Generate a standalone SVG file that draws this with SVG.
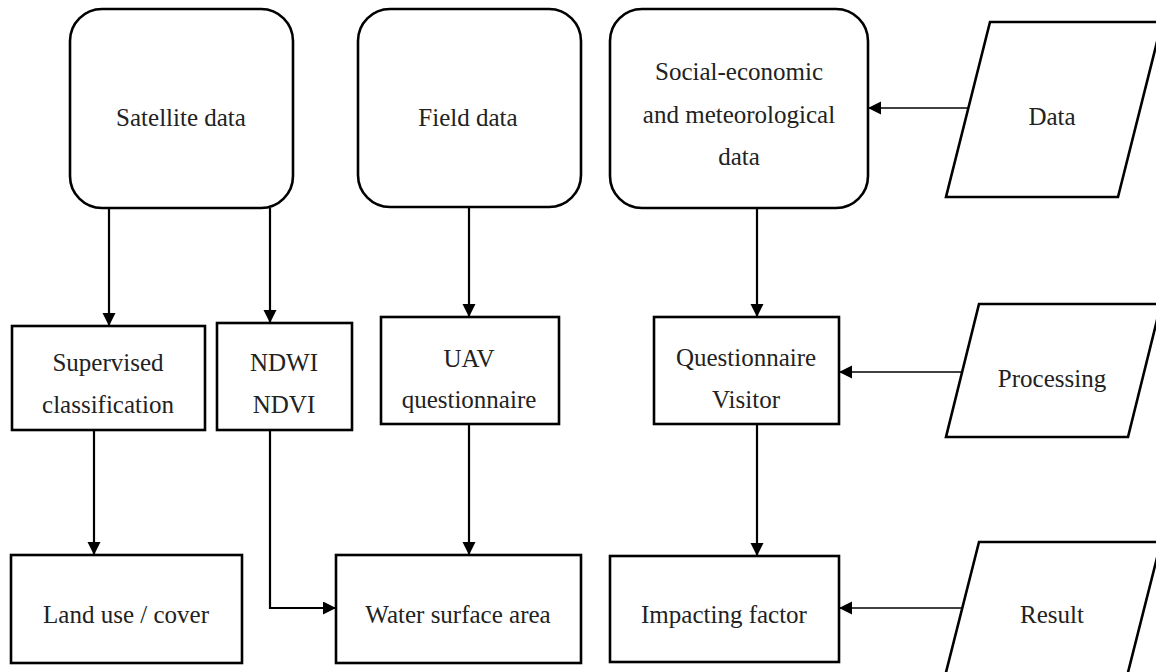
<svg xmlns="http://www.w3.org/2000/svg" width="1156" height="672" viewBox="0 0 1156 672">
<style>
.box{fill:#fff;stroke:#000;stroke-width:2.6}
.lbl{font-family:"Liberation Serif","Times New Roman",serif;font-size:25px;fill:#222;text-anchor:middle}
.con{fill:none;stroke:#000;stroke-width:2.2}
.thin{fill:none;stroke:#000;stroke-width:1.6}
</style>
<defs>
<marker id="ah" markerUnits="userSpaceOnUse" markerWidth="14" markerHeight="14" refX="13" refY="6.5" orient="auto">
<path d="M0,0 L13,6.5 L0,13 z" fill="#000"/>
</marker>
</defs>
<rect width="1156" height="672" fill="#fff"/>
<g id="connectors">
<path class="con" d="M109,208 V326" marker-end="url(#ah)"/>
<path class="con" d="M270,208 V323" marker-end="url(#ah)"/>
<path class="con" d="M469,208 V317" marker-end="url(#ah)"/>
<path class="con" d="M757,208 V317" marker-end="url(#ah)"/>
<path class="con" d="M94,430 V555" marker-end="url(#ah)"/>
<path class="con" d="M270,430 V608 H336" marker-end="url(#ah)"/>
<path class="con" d="M469,424 V555" marker-end="url(#ah)"/>
<path class="con" d="M757,424 V556" marker-end="url(#ah)"/>
<path class="thin" d="M968,108 H868" marker-end="url(#ah)"/>
<path class="thin" d="M962,372 H839" marker-end="url(#ah)"/>
<path class="thin" d="M962,608 H839" marker-end="url(#ah)"/>
</g>
<g id="satellite">
<rect class="box" x="70" y="9" width="223" height="199" rx="32"/>
<text class="lbl" x="181" y="126">Satellite data</text>
</g>
<g id="field">
<rect class="box" x="358" y="9" width="223" height="198" rx="32"/>
<text class="lbl" x="468" y="126">Field data</text>
</g>
<g id="social">
<rect class="box" x="610" y="9" width="258" height="199" rx="32"/>
<text class="lbl" x="739" y="80">Social-economic</text>
<text class="lbl" x="739" y="123">and meteorological</text>
<text class="lbl" x="739" y="165">data</text>
</g>
<g id="data">
<polygon class="box" points="990,22 1162,22 1118,197 946,197"/>
<text class="lbl" x="1052" y="125">Data</text>
</g>
<g id="supervised">
<rect class="box" x="12" y="326" width="193" height="104"/>
<text class="lbl" x="108" y="371">Supervised</text>
<text class="lbl" x="108" y="413">classification</text>
</g>
<g id="ndwi">
<rect class="box" x="217" y="323" width="135" height="107"/>
<text class="lbl" x="284" y="371">NDWI</text>
<text class="lbl" x="284" y="413">NDVI</text>
</g>
<g id="uav">
<rect class="box" x="381" y="317" width="178" height="107"/>
<text class="lbl" x="469" y="367">UAV</text>
<text class="lbl" x="469" y="408">questionnaire</text>
</g>
<g id="questionnaire">
<rect class="box" x="654" y="317" width="185" height="107"/>
<text class="lbl" x="746" y="366">Questionnaire</text>
<text class="lbl" x="746" y="408">Visitor</text>
</g>
<g id="processing">
<polygon class="box" points="979,304 1161,304 1128,437 946,437"/>
<text class="lbl" x="1052" y="387">Processing</text>
</g>
<g id="landuse">
<rect class="box" x="11" y="555" width="231" height="108"/>
<text class="lbl" x="126" y="623">Land use / cover</text>
</g>
<g id="water">
<rect class="box" x="336" y="555" width="245" height="108"/>
<text class="lbl" x="458" y="623">Water surface area</text>
</g>
<g id="impacting">
<rect class="box" x="610" y="556" width="229" height="106"/>
<text class="lbl" x="724" y="623">Impacting factor</text>
</g>
<g id="result">
<polygon class="box" points="979,542 1161,542 1121,700 939,700"/>
<text class="lbl" x="1052" y="623">Result</text>
</g>
</svg>
